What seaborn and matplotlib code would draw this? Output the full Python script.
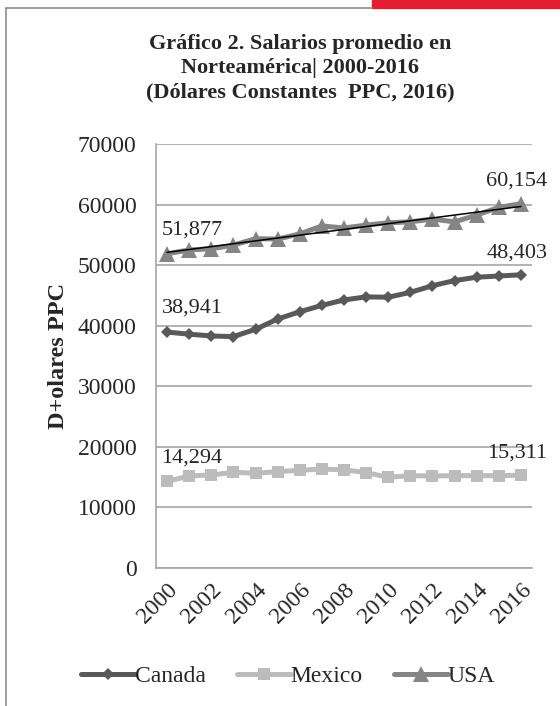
import matplotlib
matplotlib.use("Agg")
import matplotlib.pyplot as plt
from matplotlib.lines import Line2D
from matplotlib.patches import Rectangle
import numpy as np
import pandas as pd
import seaborn as sns

years = list(range(2000, 2017))
canada = [38941, 38600, 38300, 38200, 39400, 41100, 42300, 43350, 44250, 44750,
          44700, 45500, 46600, 47450, 48000, 48200, 48403]
mexico = [14294, 15190, 15350, 15800, 15630, 15900, 16130, 16330, 16200, 15750,
          14970, 15240, 15190, 15240, 15240, 15240, 15311]
usa = [51877, 52500, 52700, 53300, 54360, 54300, 55150, 56460, 56130, 56600,
       56980, 57150, 57600, 57130, 58280, 59520, 60154]
series_names = ["Canada", "Mexico", "USA"]
series_colors = ["#595959", "#bcbcbc", "#858585"]
series_markers = ["D", "s", "^"]
marker_sizes = [6, 8, 11]
yticks = [0, 10000, 20000, 30000, 40000, 50000, 60000, 70000]

sns.set_style("white")
plt.rcParams["font.family"] = ["Liberation Serif", "DejaVu Serif"]

fig = plt.figure(figsize=(5.6, 7.06), dpi=100)
ax = fig.add_axes([0.2786, 0.1955, 0.6714, 0.6006])

idx = np.arange(len(years))
for name, vals, col, mk, ms in zip(series_names, [canada, mexico, usa],
                                   series_colors, series_markers, marker_sizes):
    sns.lineplot(x=idx, y=vals, ax=ax, color=col, lw=3.6, marker=mk,
                 markersize=ms, markeredgewidth=0, label=name, zorder=3)

# linear trend on USA
sns.regplot(x=idx, y=usa, ax=ax, scatter=False, ci=None, color="black",
            line_kws={"lw": 1.1, "zorder": 4})

ax.set_xlim(-0.5, len(years) - 0.5)
ax.set_ylim(0, 70000)
ax.set_yticks(yticks)
ax.set_yticklabels([str(t) for t in yticks], fontsize=17)
ax.set_xticks(idx[::2])
ax.set_xticklabels([str(y) for y in years[::2]], fontsize=17, rotation=45,
                   ha="right", rotation_mode="anchor")
ax.tick_params(axis="y", length=0, pad=14)
ax.tick_params(axis="x", length=0, pad=8)
ax.grid(axis="y", color="#a6a6a6", lw=1.2)
ax.set_axisbelow(True)
for s in ["top", "right"]:
    ax.spines[s].set_visible(False)
for s in ["left", "bottom"]:
    ax.spines[s].set_color("#a6a6a6")
    ax.spines[s].set_linewidth(1.2)
ax.set_xlabel("")
ax.set_ylabel("D+olares PPC", fontsize=17.5, fontweight="bold", labelpad=6)

# data labels on first and last points
for vals in [canada, mexico, usa]:
    ax.annotate(f"{vals[0]:,}", (idx[0], vals[0]), xytext=(18, 17),
                textcoords="offset points", ha="center", va="center", fontsize=16)
    ax.annotate(f"{vals[-1]:,}", (idx[-1], vals[-1]), xytext=(-3, 16),
                textcoords="offset points", ha="center", va="center", fontsize=16)

leg = ax.legend(loc="center", bbox_to_anchor=(288 / 560, 1 - 676 / 706),
                bbox_transform=fig.transFigure, ncol=3, frameon=False,
                fontsize=17, handlelength=2.3, handletextpad=0.0,
                columnspacing=1.3)

fig.text(300 / 560, 1 - 68 / 706,
         "Gráfico 2. Salarios promedio en\nNorteamérica| 2000-2016\n(Dólares Constantes  PPC, 2016)",
         ha="center", va="center", fontsize=16, fontweight="bold", linespacing=1.3)

# chart frame and red header strip
fig.add_artist(Line2D([6 / 560, 6 / 560], [0, 1 - 8 / 706], color="#8c8c8c", lw=1.2,
                      transform=fig.transFigure))
fig.add_artist(Line2D([6 / 560, 372 / 560], [1 - 8 / 706, 1 - 8 / 706], color="#8c8c8c",
                      lw=1.2, transform=fig.transFigure))
fig.add_artist(Rectangle((372 / 560, 1 - 8 / 706), 188 / 560, 8 / 706, color="#e41e2f",
                         transform=fig.transFigure))

fig.savefig("out.png", dpi=100)
